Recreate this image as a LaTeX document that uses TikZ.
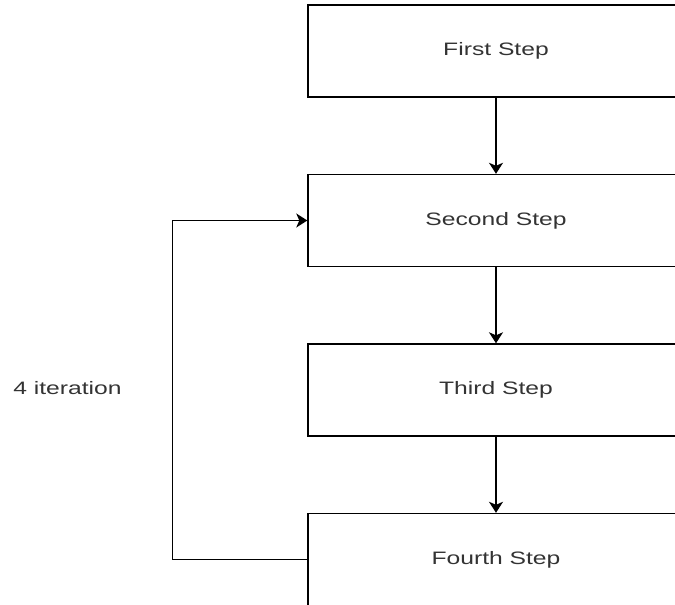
\documentclass[tikz,border=0pt]{standalone}
\usepackage{fontspec}
\setmainfont{Liberation Sans}
\usetikzlibrary{arrows.meta}
\begin{document}
\begin{tikzpicture}[x=1pt, y=-1pt, node distance=169.5pt, line width=1.4pt,
  >={Stealth[length=11pt, width=14pt, inset=3pt]},
  stepbox/.style={draw, rectangle, minimum width=376pt, minimum height=92pt,
    font=\fontsize{18}{20}\selectfont, text=black!80},
  note/.style={font=\fontsize{18}{20}\selectfont, text=black!80}]
  \useasboundingbox (0,0) rectangle (675,605);
  \clip (0,0) rectangle (675,605);
  \node (first) [stepbox] at (496,51) {\scalebox{1.37}[1]{First Step}};
  \node (second) [stepbox, below of=first] {\scalebox{1.37}[1]{Second Step}};
  \node (third) [stepbox, below of=second] {\scalebox{1.37}[1]{Third Step}};
  \node (fourth) [stepbox, below of=third] {\scalebox{1.37}[1]{Fourth Step}};
  \node (iter) [note] at (67.5,388) {\scalebox{1.37}[1]{4 iteration}};
  \draw[->] (first) -- (second);
  \draw[->] (second) -- (third);
  \draw[->] (third) -- (fourth);
  \draw[->] (fourth.west) -- ++(-135,0) |- (second.west);
\end{tikzpicture}
\end{document}
